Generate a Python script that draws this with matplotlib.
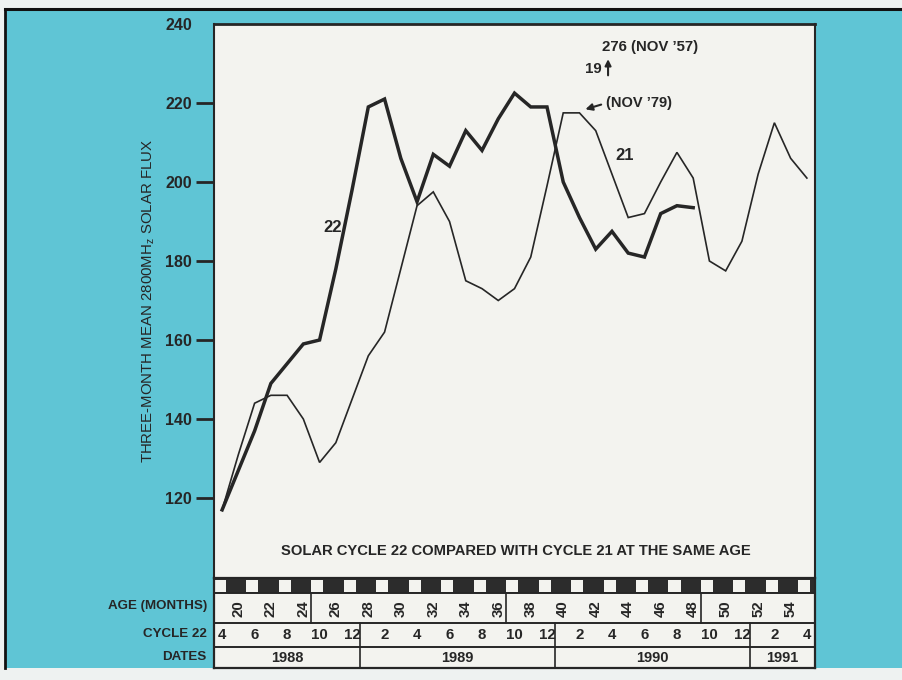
import matplotlib.pyplot as plt
import numpy as np
from matplotlib.patches import Rectangle
from matplotlib.lines import Line2D

plt.rcParams['font.family'] = ['Liberation Sans', 'DejaVu Sans']
plt.rcParams['font.weight'] = 'bold'

# age in months since the cycle minimum (cycle 22 began Sep 1986)
age22 = np.arange(19, 49)
flux22 = [117, 127, 137, 149, 154, 159, 160, 178, 198, 219,
          221, 206, 195, 207, 204, 213, 208, 216, 222.5, 219,
          219, 200, 191, 183, 187.5, 182, 181, 192, 194, 193.5]
age21 = np.arange(19, 56)
flux21 = [117, 131, 144, 146, 146, 140, 129, 134, 145, 156,
          162, 178, 194, 197.5, 190, 175, 173, 170, 173, 181,
          199, 217.5, 217.5, 213, 202, 191, 192, 200, 207.5, 201,
          180, 177.5, 185, 202, 215, 206, 201]

yticks = [120, 140, 160, 180, 200, 220, 240]
age_labels = np.arange(20, 56, 2)
years = [1988, 1989, 1990, 1991]
month_labels = {1988: [4, 6, 8, 10, 12], 1989: [2, 4, 6, 8, 10, 12],
                1990: [2, 4, 6, 8, 10, 12], 1991: [2, 4]}

CYAN = '#5fc5d5'
PAPER = '#f3f3ef'
INK = '#262626'
W, H = 902, 680

def month_age(year, month):
    return (year - 1986) * 12 + month - 9

fig = plt.figure(figsize=(9.02, 6.80), dpi=100)
fig.patch.set_facecolor('#eef2f1')
fig.add_artist(Rectangle((5 / W, 12 / H), 1, 659 / H, transform=fig.transFigure,
                         facecolor=CYAN, edgecolor='none', zorder=0))
fig.add_artist(Line2D([5 / W, 1], [671 / H, 671 / H], color='#111111', lw=2.2))
fig.add_artist(Line2D([5 / W, 5 / W], [12 / H, 671 / H], color='#111111', lw=2.0))

x0, x1 = 18.5, 55.5
ax = fig.add_axes([214 / W, 102 / H, 601 / W, 554 / H])
ax.set_facecolor(PAPER)
ax.set_xlim(x0, x1)
ax.set_ylim(99.75, 240)

ax.plot(age21, flux21, color=INK, lw=1.2, solid_joinstyle='miter')
ax.plot(age22, flux22, color=INK, lw=2.5, solid_joinstyle='miter')

ax.set_xticks([])
ax.set_yticks(yticks)
ax.set_yticklabels([str(t) for t in yticks], fontsize=11.5, color=INK)
ax.tick_params(axis='y', direction='out', length=13, width=2.0, pad=3, colors=INK)
ax.yaxis.get_major_ticks()[-1].tick1line.set_visible(False)
for s in ['left', 'top', 'right']:
    ax.spines[s].set_color(INK)
ax.spines['left'].set_linewidth(1.5)
ax.spines['top'].set_linewidth(2.0)
ax.spines['right'].set_linewidth(1.5)
ax.spines['bottom'].set_visible(False)

ax.set_ylabel('THREE-MONTH MEAN 2800MH$\\mathregular{_z}$ SOLAR FLUX', fontsize=10.8,
              color=INK, labelpad=6)

# annotations
ax.text(25.8, 188.4, '22', fontsize=12, color=INK, ha='center', va='center')
ax.text(43.8, 206.8, '21', fontsize=12, color=INK, ha='center', va='center')
ax.text(42.65, 220, "(NOV \u201979)", fontsize=10.5, color=INK, ha='left', va='center')
ax.annotate('', xy=(41.2, 218.2), xytext=(42.5, 219.8),
            arrowprops=dict(arrowstyle='-|>', color=INK, lw=1.5, mutation_scale=10))
ax.text(42.4, 234.3, "276 (NOV \u201957)", fontsize=10.8, color=INK, ha='left', va='center')
ax.text(42.35, 228.6, '19', fontsize=10.8, color=INK, ha='right', va='center')
ax.annotate('', xy=(42.76, 231.8), xytext=(42.76, 226.3),
            arrowprops=dict(arrowstyle='-|>', color=INK, lw=1.5, mutation_scale=9))
ax.text(0.502, 106.6, 'SOLAR CYCLE 22 COMPARED WITH CYCLE 21 AT THE SAME AGE',
        transform=ax.get_yaxis_transform(), fontsize=10.6,
        color=INK, ha='center', va='center')

# table under the chart: month strip, age, cycle months and years
tb = fig.add_axes([214 / W, 12 / H, 601 / W, 90 / H])
tb.set_xlim(x0, x1)
tb.set_ylim(90, 0)
tb.set_facecolor(PAPER)
tb.set_xticks([])
tb.set_yticks([])
for s in tb.spines.values():
    s.set_color(INK)
    s.set_linewidth(1.6)

tb.add_patch(Rectangle((x0, 0), x1 - x0, 15, facecolor='#2c2c2c', edgecolor='none'))
for c in np.arange(18.85, 55.5, 2):
    tb.add_patch(Rectangle((c - 0.37, 2), 0.74, 11.5, facecolor=PAPER, edgecolor='none'))
for yy in [15, 45, 69]:
    tb.axhline(yy, color=INK, lw=1.4)

for a in [24.5, 36.5, 48.5]:
    tb.plot([a, a], [15, 45], color=INK, lw=1.2)
for a in age_labels:
    tb.text(a, 31, str(a), rotation=90, fontsize=10.8, color=INK, ha='center', va='center')

bounds = [x0, month_age(1989, 1) - 0.5, month_age(1990, 1) - 0.5, month_age(1991, 1) - 0.5, x1]
for b in bounds[1:-1]:
    tb.plot([b, b], [45, 90], color=INK, lw=1.2)
for i, yr in enumerate(years):
    for m in month_labels[yr]:
        tb.text(month_age(yr, m), 57, str(m), fontsize=10.8, color=INK, ha='center', va='center')
    tb.text((bounds[i] + bounds[i + 1]) / 2, 79.5, str(yr), fontsize=10.5, color=INK,
            ha='center', va='center')

for label, yy in [('AGE (MONTHS)', 28), ('CYCLE 22', 56), ('DATES', 79)]:
    tb.text(-0.012, yy, label, transform=tb.get_yaxis_transform(), fontsize=9.6,
            color=INK, ha='right', va='center')

fig.savefig('out.png', dpi=100, facecolor=fig.get_facecolor())
